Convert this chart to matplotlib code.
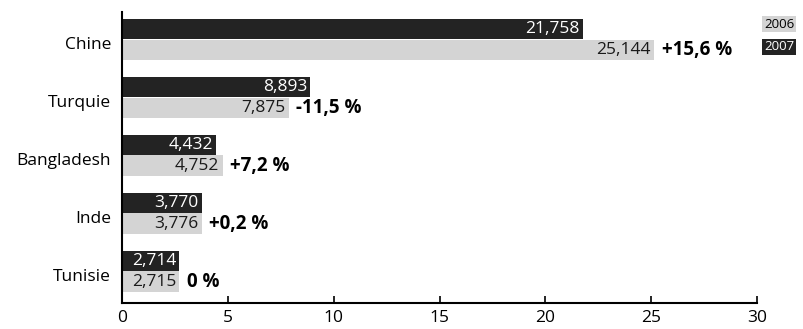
import matplotlib
matplotlib.use("Agg")
import matplotlib.pyplot as plt
import numpy as np

plt.rcParams['font.family'] = ['Open Sans', 'DejaVu Sans']

categories = ["Chine", "Turquie", "Bangladesh", "Inde", "Tunisie"]
dark_vals = [21.758, 8.893, 4.432, 3.770, 2.714]
light_vals = [25.144, 7.875, 4.752, 3.776, 2.715]
dark_labels = ["21,758", "8,893", "4,432", "3,770", "2,714"]
light_labels = ["25,144", "7,875", "4,752", "3,776", "2,715"]
changes = ["+15,6 %", "-11,5 %", "+7,2 %", "+0,2 %", "0 %"]
xticks = [0, 5, 10, 15, 20, 25, 30]
legend_labels = ["2006", "2007"]

W, H = 804, 329
fig = plt.figure(figsize=(W/100, H/100), dpi=100)
ax = fig.add_axes([122/W, 1-303/H, (757-122)/W, (303-12)/H])

y = np.arange(len(categories))
h = 0.35
off = 0.18
dark_c = "#232323"
light_c = "#d4d4d4"
ax.barh(y - off, dark_vals, height=h, color=dark_c)
ax.barh(y + off, light_vals, height=h, color=light_c)

for i in range(len(categories)):
    ax.text(dark_vals[i] - 0.15, y[i] - off, dark_labels[i], ha="right", va="center",
            color="white", fontsize=12.5)
    ax.text(light_vals[i] - 0.15, y[i] + off, light_labels[i], ha="right", va="center",
            color="#1a1a1a", fontsize=12.5)
    ax.text(light_vals[i] + 0.35, y[i] + off, changes[i], ha="left", va="center",
            color="black", fontsize=13.5, fontweight="bold")

ax.set_xlim(0, 30)
ax.set_ylim(4.55, -0.47)
ax.set_xticks(xticks)
ax.set_xticklabels([str(t) for t in xticks], fontsize=12.5)
ax.set_yticks(y + 0.06)
ax.set_yticklabels(categories, fontsize=12.5)
ax.tick_params(axis="y", length=0, pad=8)
ax.tick_params(axis="x", direction="in", length=5, width=1.2, pad=5)
for s in ["top", "right"]:
    ax.spines[s].set_visible(False)
ax.spines["left"].set_linewidth(1.5)
ax.spines["bottom"].set_linewidth(1.5)

fig.text(779/W, 1-24/H, legend_labels[0], ha="center", va="center", fontsize=9.5,
         color="black", bbox=dict(boxstyle="square,pad=0.15", fc=light_c, ec="none"))
fig.text(779/W, 1-47/H, legend_labels[1], ha="center", va="center", fontsize=9.5,
         color="white", bbox=dict(boxstyle="square,pad=0.15", fc=dark_c, ec="none"))

fig.savefig("out.png", dpi=100)
